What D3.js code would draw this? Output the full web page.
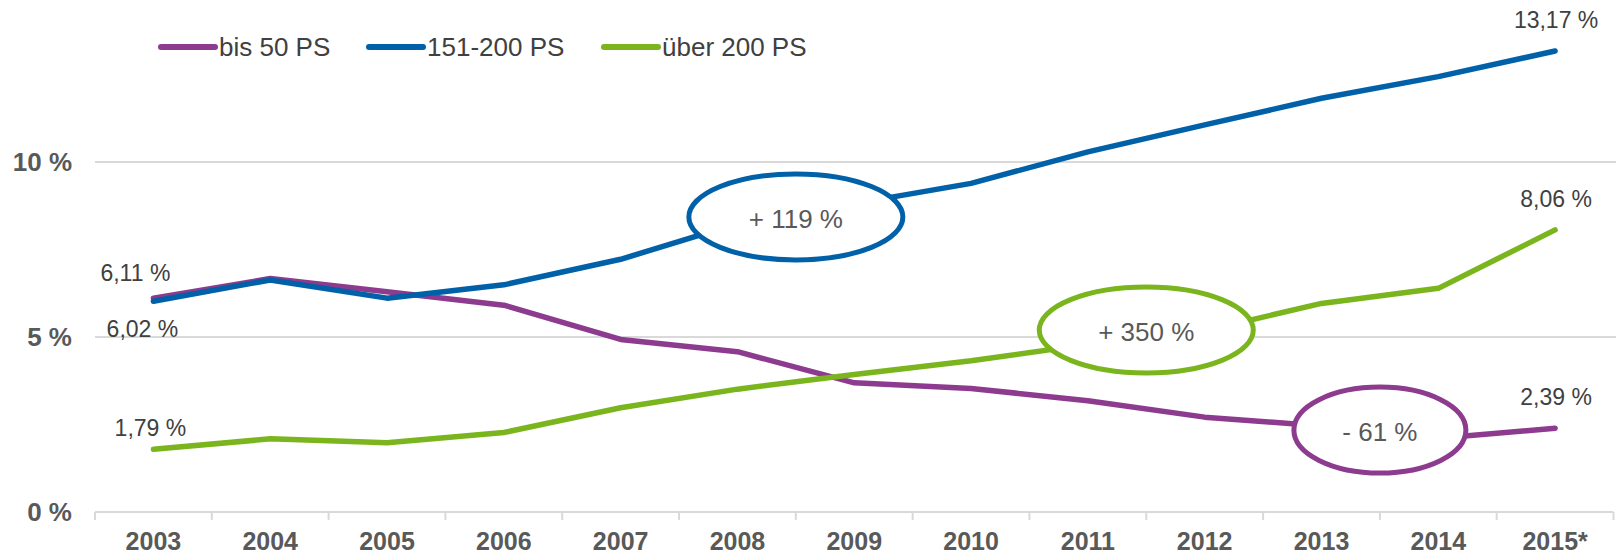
<!DOCTYPE html>
<html lang="de">
<head>
<meta charset="utf-8">
<title>PS-Klassen</title>
<script src="https://d3js.org/d3.v7.min.js"></script>
<style>
  body { margin: 0; background: #fff; }
  text { font-family: "Liberation Sans", Arial, sans-serif; }
</style>
</head>
<body>
<script>
// Daten
var years = ["2003", "2004", "2005", "2006", "2007", "2008", "2009", "2010", "2011", "2012", "2013", "2014", "2015*"];
var bis50 = [6.11, 6.67, 6.29, 5.91, 4.93, 4.58, 3.69, 3.53, 3.18, 2.71, 2.46, 2.11, 2.39];
var ps151 = [6.02, 6.63, 6.11, 6.49, 7.22, 8.24, 8.81, 9.39, 10.29, 11.06, 11.82, 12.44, 13.17];
var ueber200 = [1.79, 2.09, 1.98, 2.27, 2.98, 3.51, 3.93, 4.32, 4.79, 5.18, 5.96, 6.39, 8.06];
var seriesNames = ["bis 50 PS", "151-200 PS", "über 200 PS"];
var yTicks = [0, 5, 10];
var yTickLabels = ["0 %", "5 %", "10 %"];
var endLabels = ["2,39 %", "13,17 %", "8,06 %"];
var startLabels = ["6,11 %", "6,02 %", "1,79 %"];
var changeLabels = ["- 61 %", "+ 119 %", "+ 350 %"];
var changeYears = [["2013", "2014"], ["2008", "2009"], ["2011", "2012"]];
var changeValues = [2.34, 8.43, 5.2];

var width = 1616, height = 556;
var colors = ["#8d3b8e", "#0061a9", "#7ab51d"];
var grid = "#d9d9d9", textCol = "#404040", axisCol = "#595959";

var svg = d3.select("body").append("svg")
    .attr("width", width)
    .attr("height", height);

var x = d3.scaleBand().domain(years).range([95, 1613.5]);
var y = d3.scaleLinear().domain([0, 10]).range([512, 162]);
function cx(d) { return x(d) + x.bandwidth() / 2; }

// Gitternetz
svg.append("g").selectAll("line")
    .data(yTicks.slice(1))
    .enter().append("line")
    .attr("x1", 95).attr("x2", width)
    .attr("y1", function(d) { return y(d); })
    .attr("y2", function(d) { return y(d); })
    .attr("stroke", grid).attr("stroke-width", 2);

// x-Achse
var xAxis = svg.append("g")
    .attr("transform", "translate(0," + y(0) + ")")
    .call(d3.axisBottom(x).tickSize(0).tickPadding(20));
xAxis.select(".domain").remove();
xAxis.append("line").attr("x1", 95).attr("x2", 1613.5)
    .attr("stroke", grid).attr("stroke-width", 2);
xAxis.selectAll(".sep")
    .data(years.concat(["end"]))
    .enter().append("line")
    .attr("x1", function(d, i) { return 95 + i * x.step(); })
    .attr("x2", function(d, i) { return 95 + i * x.step(); })
    .attr("y1", 0).attr("y2", 8)
    .attr("stroke", grid).attr("stroke-width", 2);
xAxis.selectAll(".tick text")
    .attr("fill", axisCol)
    .style("font-size", "25px")
    .style("font-weight", "bold")
    .attr("dy", "0.71em");

// y-Achse Beschriftung
svg.append("g").selectAll("text")
    .data(yTicks)
    .enter().append("text")
    .attr("x", 72)
    .attr("y", function(d) { return y(d); })
    .attr("dy", "0.36em")
    .attr("text-anchor", "end")
    .attr("fill", axisCol)
    .style("font-size", "26px")
    .style("font-weight", "bold")
    .text(function(d, i) { return yTickLabels[i]; });

// Linien
var line = d3.line()
    .x(function(d, i) { return cx(years[i]); })
    .y(function(d) { return y(d); });

var allSeries = [bis50, ps151, ueber200];
var drawOrder = [0, 2, 1];
drawOrder.forEach(function(k) {
  svg.append("path")
      .datum(allSeries[k])
      .attr("d", line)
      .attr("fill", "none")
      .attr("stroke", colors[k])
      .attr("stroke-width", 5.5)
      .attr("stroke-linecap", "round")
      .attr("stroke-linejoin", "round");
});

// Datenbeschriftungen
var last = years[years.length - 1];
allSeries.forEach(function(s, k) {
  svg.append("text")
      .attr("x", cx(last) + 1)
      .attr("y", y(s[s.length - 1]) - 23)
      .attr("text-anchor", "middle")
      .attr("fill", textCol)
      .style("font-size", "23px")
      .text(endLabels[k]);
});
var startOff = [[-18, -17], [-11, 36], [-3, -13]];
allSeries.forEach(function(s, k) {
  svg.append("text")
      .attr("x", cx(years[0]) + startOff[k][0])
      .attr("y", y(s[0]) + startOff[k][1])
      .attr("text-anchor", "middle")
      .attr("fill", textCol)
      .style("font-size", "23px")
      .text(startLabels[k]);
});

// Ellipsen mit Veränderung
var rx = [86, 107, 107];
changeLabels.forEach(function(lbl, k) {
  var ex = (cx(changeYears[k][0]) + cx(changeYears[k][1])) / 2;
  var ey = y(changeValues[k]);
  svg.append("ellipse")
      .attr("cx", ex).attr("cy", ey)
      .attr("rx", rx[k]).attr("ry", 43)
      .attr("fill", "#fff")
      .attr("stroke", colors[k])
      .attr("stroke-width", 5);
  svg.append("text")
      .attr("x", ex).attr("y", ey + 2)
      .attr("dy", "0.36em")
      .attr("text-anchor", "middle")
      .attr("fill", axisCol)
      .style("font-size", "26px")
      .text(lbl);
});

// Legende
var legendX = [161, 369, 604];
var legend = svg.append("g").selectAll("g")
    .data(seriesNames)
    .enter().append("g")
    .attr("transform", function(d, i) { return "translate(" + legendX[i] + ",47)"; });
legend.append("line")
    .attr("x1", 0).attr("x2", 54)
    .attr("stroke", function(d, i) { return colors[i]; })
    .attr("stroke-width", 6)
    .attr("stroke-linecap", "round");
legend.append("text")
    .attr("x", 58)
    .attr("dy", "0.36em")
    .attr("fill", textCol)
    .style("font-size", "26px")
    .text(function(d) { return d; });
</script>
</body>
</html>
